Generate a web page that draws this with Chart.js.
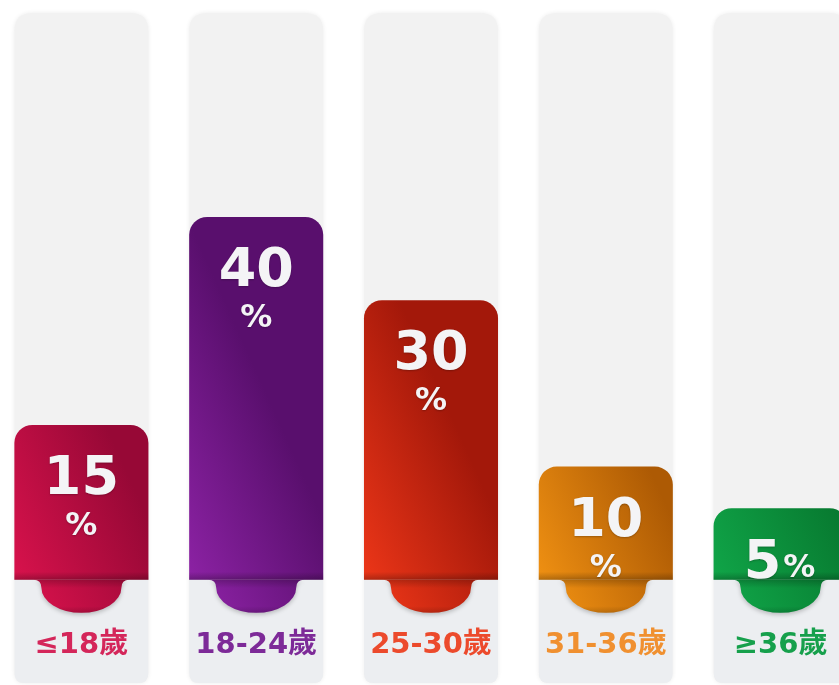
<!DOCTYPE html>
<html><head><meta charset="utf-8">
<script src="https://cdn.jsdelivr.net/npm/chart.js@4"></script>
<style>
html,body{margin:0;padding:0;background:#fff;overflow:hidden;width:839px;height:685px;}
#wrap{position:absolute;left:-6px;top:0;width:874px;height:685px;}
</style></head><body>
<div id="wrap"><canvas id="c" width="874" height="685"></canvas></div>
<script>
// ---- data ----
const categories = ['≤18歲', '18-24歲', '25-30歲', '31-36歲', '≥36歲'];
const shares = [15, 40, 30, 10, 5];
const unitLabel = '%';
// ---- styles ----
const barLight = ['#d8124c', '#8c22a4', '#ec3618', '#ef9012', '#10a548'];
const barDark  = ['#970836', '#590f6d', '#a3180a', '#ad5a04', '#07782f'];
const labelColors = ['#d4265a', '#7d2a98', '#ec4a2c', '#f09030', '#16a04c'];
const AXIS_MIN = -16, AXIS_MAX = 64.5, BAR_BASE = -3.6;
const BAR_PCT = 0.767;

function geom(chart, i) {
  const xs = chart.scales.x;
  const cx = xs.getPixelForValue(i);
  const w = (xs.width / categories.length) * BAR_PCT;
  return { cx, w, left: cx - w / 2, right: cx + w / 2 };
}
function makeGrad(c, i, left, right, yBot) {
  const w = right - left;
  const g = c.createLinearGradient(left, yBot, right, yBot - w * 0.45);
  g.addColorStop(0, barLight[i]);
  g.addColorStop(1, barDark[i]);
  return g;
}
function roundRect(c, x, y, w, h, rt, rb) {
  c.beginPath();
  c.moveTo(x + rt, y);
  c.lineTo(x + w - rt, y);
  c.quadraticCurveTo(x + w, y, x + w, y + rt);
  c.lineTo(x + w, y + h - rb);
  c.quadraticCurveTo(x + w, y + h, x + w - rb, y + h);
  c.lineTo(x + rb, y + h);
  c.quadraticCurveTo(x, y + h, x, y + h - rb);
  c.lineTo(x, y + rt);
  c.quadraticCurveTo(x, y, x + rt, y);
  c.closePath();
}
const FONT = '"DejaVu Sans", "Noto Sans CJK TC", sans-serif';

const decor = {
  id: 'decor',
  beforeDatasetsDraw(chart) {
    const c = chart.ctx, area = chart.chartArea, ys = chart.scales.y;
    const yBase = ys.getPixelForValue(BAR_BASE);
    categories.forEach((_, i) => {
      const g = geom(chart, i);
      c.save();
      c.shadowColor = 'rgba(0,0,0,0.08)';
      c.shadowBlur = 4;
      c.fillStyle = '#f2f2f2';
      roundRect(c, g.left, area.top, g.w, area.bottom - area.top, 18, 10);
      c.fill();
      c.restore();
      c.save();
      roundRect(c, g.left, area.top, g.w, area.bottom - area.top, 18, 10);
      c.clip();
      c.fillStyle = '#eceef1';
      c.fillRect(g.left, yBase, g.w, area.bottom - yBase);
      c.restore();
    });
  },
  afterDatasetsDraw(chart) {
    const c = chart.ctx, ys = chart.scales.y;
    const yBase = ys.getPixelForValue(BAR_BASE);
    const meta = chart.getDatasetMeta(0);
    shares.forEach((v, i) => {
      const g = geom(chart, i);
      const top = meta.data[i].y;
      // darker band at bar bottom
      const sh = c.createLinearGradient(0, yBase - 8, 0, yBase);
      sh.addColorStop(0, 'rgba(0,0,0,0)');
      sh.addColorStop(1, 'rgba(0,0,0,0.25)');
      c.fillStyle = sh;
      c.fillRect(g.left, yBase - 8, g.w, 8);
      // bump
      const cx = g.cx, r = 40;
      c.save();
      c.beginPath();
      c.moveTo(cx - r - 8, yBase);
      c.quadraticCurveTo(cx - r, yBase, cx - r, yBase + 8);
      c.ellipse(cx, yBase + 8, r, 25, 0, Math.PI, 0, true);
      c.quadraticCurveTo(cx + r, yBase, cx + r + 8, yBase);
      c.closePath();
      c.shadowColor = 'rgba(0,0,0,0.22)';
      c.shadowBlur = 4;
      c.shadowOffsetY = 2;
      c.fillStyle = makeGrad(c, i, g.left, g.right, yBase);
      c.fill();
      c.shadowColor = 'transparent';
      const bg = c.createLinearGradient(0, yBase, 0, yBase + 33);
      bg.addColorStop(0, 'rgba(0,0,0,0.2)');
      bg.addColorStop(0.25, 'rgba(0,0,0,0)');
      bg.addColorStop(0.8, 'rgba(0,0,0,0)');
      bg.addColorStop(1, 'rgba(0,0,0,0.16)');
      c.fillStyle = bg;
      c.fill();
      c.restore();
      // value text
      c.save();
      c.fillStyle = '#f4f4f6';
      c.shadowColor = 'rgba(0,0,0,0.25)';
      c.shadowBlur = 2;
      c.shadowOffsetY = 1;
      c.textBaseline = 'alphabetic';
      const numStr = String(v);
      if (yBase - top < 110) {
        c.font = 'bold 54px ' + FONT;
        const w1 = c.measureText(numStr).width;
        c.font = 'bold 32px ' + FONT;
        const w2 = c.measureText(unitLabel).width;
        const x0 = cx - (w1 + w2) / 2 - 2;
        c.textAlign = 'left';
        c.font = 'bold 54px ' + FONT;
        c.fillText(numStr, x0, top + 70);
        c.font = 'bold 32px ' + FONT;
        c.fillText(unitLabel, x0 + w1 + 2, top + 69);
      } else {
        c.textAlign = 'center';
        c.font = 'bold 54px ' + FONT;
        c.fillText(numStr, cx, top + 69);
        c.font = 'bold 32px ' + FONT;
        c.fillText(unitLabel, cx, top + 110);
      }
      c.restore();
      // category label
      c.save();
      c.fillStyle = labelColors[i];
      c.textAlign = 'center';
      c.textBaseline = 'alphabetic';
      c.font = 'bold 29px ' + FONT;
      c.fillText(categories[i], cx, 653);
      c.restore();
    });
  }
};

new Chart(document.getElementById('c'), {
  type: 'bar',
  data: {
    labels: categories,
    datasets: [{
      data: shares,
      base: BAR_BASE,
      backgroundColor: (ctx) => {
        const chart = ctx.chart, i = ctx.dataIndex;
        if (!chart.chartArea || !chart.scales.x) return barLight[i];
        const g = geom(chart, i);
        const yBase = chart.scales.y.getPixelForValue(BAR_BASE);
        return makeGrad(chart.ctx, i, g.left, g.right, yBase);
      },
      borderRadius: { topLeft: 18, topRight: 18, bottomLeft: 0, bottomRight: 0 },
      borderSkipped: 'start',
      barPercentage: BAR_PCT,
      categoryPercentage: 1
    }]
  },
  options: {
    responsive: false,
    animation: false,
    devicePixelRatio: 1,
    layout: { padding: { top: 13, bottom: 2, left: 0, right: 0 } },
    plugins: { legend: { display: false }, tooltip: { enabled: false } },
    scales: {
      x: { display: false, offset: true, grid: { display: false } },
      y: { display: false, min: AXIS_MIN, max: AXIS_MAX, grid: { display: false } }
    }
  },
  plugins: [decor]
});
</script>
</body></html>
